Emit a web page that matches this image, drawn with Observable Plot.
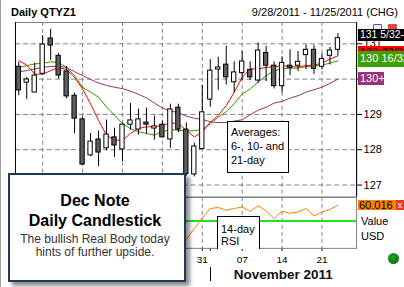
<!DOCTYPE html>
<html><head><meta charset="utf-8">
<script src="https://cdn.jsdelivr.net/npm/d3@7"></script>
<script src="https://cdn.jsdelivr.net/npm/@observablehq/plot@0.6"></script>
<style>
body{margin:0;background:#fff;}
#wrap{position:relative;width:404px;height:287px;overflow:hidden;font-family:"Liberation Sans",Arial,sans-serif;background:#fff;box-sizing:border-box;border-left:1px solid #a0a0a0;}
#wrap svg{position:absolute;left:0;overflow:visible;}
</style></head><body><div id="wrap"></div>
<script>
// ---- data ----
const dates = ["9/28","9/29","9/30","10/3","10/4","10/5","10/6","10/7","10/10","10/11","10/12","10/13","10/14","10/17","10/18","10/19","10/20","10/21","10/24","10/25","10/26","10/27","10/28","10/31","11/1","11/2","11/3","11/4","11/7","11/8","11/9","11/10","11/11","11/14","11/15","11/16","11/17","11/18","11/21","11/22","11/23"];
const opens  = [130.35,129.90,129.62,130.15,131.15,130.66,130.22,129.53,128.86,127.84,128.29,128.04,128.35,128.01,128.71,128.57,128.77,128.60,128.71,128.29,129.19,128.57,127.30,128.02,129.42,130.27,130.41,129.91,130.17,130.26,129.96,130.74,130.38,129.80,130.38,130.38,130.68,130.83,130.35,130.66,130.83];
const highs  = [130.47,130.05,130.45,131.23,131.41,130.73,130.36,129.61,128.93,128.46,128.53,128.84,128.61,128.74,129.31,129.15,129.18,128.95,128.81,129.29,129.29,128.76,128.19,129.82,130.55,130.62,130.93,130.49,130.78,130.49,131.02,130.93,130.49,130.63,130.83,130.78,130.96,130.95,130.71,130.90,131.29];
const lows   = [129.53,129.42,129.62,130.12,130.53,130.00,129.44,128.45,127.55,127.80,127.52,127.97,127.78,127.66,128.55,128.41,128.44,128.27,128.35,128.04,128.48,127.25,127.23,128.02,129.20,129.68,129.83,129.61,129.96,129.96,129.88,129.93,129.72,129.61,130.10,130.21,130.27,130.13,130.26,130.40,130.66];
const closes = [129.68,129.99,130.10,130.98,130.95,130.10,129.51,128.88,127.58,128.23,127.92,128.43,128.12,128.71,128.83,128.86,128.71,128.66,128.35,129.14,128.57,127.31,128.09,129.06,130.24,130.33,130.05,130.19,130.50,130.05,130.81,130.38,129.80,130.46,130.32,130.49,130.83,130.29,130.57,130.81,131.16];
const ma6  = [130.52,130.40,130.14,130.14,130.24,130.33,130.27,130.05,129.72,129.30,128.83,128.41,128.27,128.27,128.46,128.60,128.65,128.65,128.69,128.76,128.74,128.55,128.36,128.50,128.78,128.97,129.25,129.63,130.05,130.29,130.29,130.33,130.35,130.38,130.35,130.35,130.38,130.40,130.45,130.57,130.66];
const ma10 = [130.33,130.38,130.43,130.45,130.49,130.47,130.33,130.10,129.77,129.63,129.49,129.21,128.98,128.74,128.60,128.51,128.46,128.41,128.51,128.57,128.55,128.53,128.54,128.57,128.73,128.92,129.08,129.30,129.58,129.72,129.91,130.10,130.24,130.29,130.31,130.31,130.35,130.38,130.40,130.45,130.52];
const ma21 = [130.21,130.24,130.29,130.33,130.36,130.36,130.33,130.21,130.10,129.99,129.89,129.82,129.77,129.73,129.66,129.57,129.47,129.32,129.18,129.10,129.05,128.95,128.89,128.86,128.79,128.77,128.77,128.81,128.85,128.99,129.12,129.20,129.32,129.37,129.46,129.53,129.63,129.70,129.77,129.88,130.00];
const rsiFirst = 21;
const rsi14 = [38.3,45.2,51.9,57.9,58.5,56.8,57.9,58.9,56.1,59.6,56.5,51.5,56.2,54.9,55.7,57.9,53.2,55.7,57.3,60.0];
const rsiMid = 50;
const yTicks = [127,128,129,130,131];
const gridIdx = [3,8,13,18,23,28,33,38];
const xTickIdx = [23,28,33,38];
const xTickLabels = ["31","07","14","21"];
const monthStartIdx = 24;
const monthLabel = "November 2011";
const tagLabels = ["130 22/32","130 16/32","131 5/32-","130+"];
const tagValues = [130.6875,130.5,131.15625,130.015625];
const rsiTagLabel = "60.016";
const rsiTagValue = 60.016;

// ---- styles ----
const FONT = '"Liberation Sans", Arial, sans-serif';
const tagStyle = [
  {bg:"#ff0000", fg:"#000", dy:-8.4, h:12, w:46, fs:11},
  {bg:"#40a000", fg:"#fff", dy:-9.8, h:15.7, w:46, fs:11},
  {bg:"#000000", fg:"#fff", dy:-8.6, h:11.7, w:46, fs:10.4},
  {bg:"#993377", fg:"#fff", dy:-6.6, h:13, w:24, fs:11}
];

const wrap = document.getElementById("wrap");
const candles = dates.map((d,i)=>({i, date:d, open:opens[i], high:highs[i], low:lows[i], close:closes[i]}));
const toPts = arr => arr.map((v,i)=>({i, v}));
const rsiPts = rsi14.map((v,k)=>({i:k+rsiFirst, v}));
const xDomain = [-0.41, 42.34];

const main = Plot.plot({
  width: 404, height: 198,
  marginLeft: 14, marginRight: 48, marginTop: 22, marginBottom: 1,
  style: {fontFamily: FONT, fontSize: "11px", color: "black", background: "transparent", overflow: "visible"},
  x: {domain: xDomain, axis: null},
  y: {domain: [126.661, 131.605], axis: "right", ticks: yTicks, tickSize: 5, tickPadding: 2, tickFormat: d => String(d), label: null},
  marks: [
    Plot.ruleY(yTicks, {stroke: "#808080", strokeDasharray: "5,3"}),
    Plot.ruleX(gridIdx, {stroke: "#808080", strokeDasharray: "4,3"}),
    Plot.frame({stroke: "#808080"}),
    Plot.ruleX(xDomain, {stroke: "black"}),
    Plot.line(toPts(ma21), {x: "i", y: "v", stroke: "#993366", strokeWidth: 1}),
    Plot.line(toPts(ma10), {x: "i", y: "v", stroke: "#339900", strokeWidth: 1}),
    Plot.line(toPts(ma6), {x: "i", y: "v", stroke: "#ff0000", strokeWidth: 1}),
    Plot.ruleX(candles, {x: "i", y1: "low", y2: "high", stroke: "black"}),
    Plot.rect(candles, {x1: d => d.i - 0.27, x2: d => d.i + 0.27, y1: "open", y2: "close",
      fill: d => d.close >= d.open ? "white" : "#5f5f5f", stroke: "black"})
  ]
});
main.style.top = "0px";
wrap.appendChild(main);

const rsiPlot = Plot.plot({
  width: 404, height: 70,
  marginLeft: 14, marginRight: 48, marginTop: 0, marginBottom: 19,
  style: {fontFamily: FONT, fontSize: "10px", color: "black", background: "transparent", overflow: "visible"},
  x: {domain: xDomain, ticks: [...xTickIdx, monthStartIdx].sort((a,b)=>a-b), tickSize: 3, tickPadding: 5,
      tickFormat: d => { const k = xTickIdx.indexOf(d); return k >= 0 ? xTickLabels[k] : ""; }, label: null},
  y: {domain: [32.6, 64.9], axis: null},
  marks: [
    Plot.ruleX(gridIdx, {stroke: "#808080", strokeDasharray: "4,3"}),
    Plot.ruleY([rsiMid], {stroke: "#22e022", strokeWidth: 2}),
    Plot.line(rsiPts, {x: "i", y: "v", stroke: "#ff8000", strokeWidth: 1}),
    Plot.frame({stroke: "#808080"})
  ]
});
rsiPlot.style.top = "197px";
wrap.appendChild(rsiPlot);

const ys = main.scale("y"), xs = main.scale("x"), rys = rsiPlot.scale("y");

function el(css, html) {
  const d = document.createElement("div");
  d.style.cssText = "position:absolute;" + css;
  if (html != null) d.innerHTML = html;
  wrap.appendChild(d);
  return d;
}
function txt(s, x, base, size, extra="") {
  return el(`left:${x}px;top:${base - 0.8465*size}px;font-size:${size}px;line-height:${size}px;white-space:nowrap;${extra}`, s);
}

// window icons (top right)
el("left:372px;top:24px;width:7px;height:7px;border:1px solid #2a5cc8;background:#eef3ff;border-radius:1px;");
el("left:387px;top:24px;width:9px;height:9px;background:#e04848;border-radius:1px;");

// price tags
tagLabels.forEach((lab, k) => {
  const s = tagStyle[k];
  const y = ys.apply(tagValues[k]);
  el(`left:357px;top:${y + s.dy}px;width:${s.w}px;height:${s.h}px;background:${s.bg};color:${s.fg};font-size:${s.fs}px;line-height:${s.h}px;padding-left:2px;white-space:nowrap;overflow:hidden;`, lab);
});

// RSI tag
{
  const y = 197 + rys.apply(rsiTagValue);
  el(`left:357px;top:${y - 5.2}px;width:37px;height:10.5px;background:#ff8000;color:#000;font-size:11px;line-height:10.5px;padding-left:1px;white-space:nowrap;`, rsiTagLabel);
  el(`left:395px;top:${y - 5.2}px;width:8px;height:10px;background:#e04020;color:#fff;font-size:9px;line-height:10px;text-align:center;`, "x");
}
txt("Value", 360, 225, 11);
txt("USD", 360, 240.5, 11);
// green status dot
el("left:386.5px;top:253px;width:11px;height:11px;border-radius:50%;background:radial-gradient(circle at 40% 35%,#22a022,#006a00);");

// month label and separator
el(`left:${xs.apply(monthStartIdx)}px;top:267px;width:1px;height:14px;background:#000;`);
el(`left:${xs.apply(33) + 1}px;top:${279 - 0.8465*13.5}px;transform:translateX(-50%);font-size:13.5px;line-height:13.5px;font-weight:bold;white-space:nowrap;color:#111;`, monthLabel);

// title
txt("Daily QTYZ1", 10, 16, 11, "font-weight:bold;");
el(`right:6px;top:${16 - 0.8465*11}px;font-size:11px;line-height:11px;white-space:nowrap;`, "9/28/2011 - 11/25/2011 (CHG)");

// Averages box
el("left:226px;top:121px;width:62px;height:52px;box-sizing:border-box;border:1px solid #000;background:#fff;");
txt("Averages:", 230, 136.7, 11);
txt("6-, 10- and", 230, 150.5, 11);
txt("21-day", 230, 164.3, 11);
// RSI box
el("left:216px;top:216px;width:43px;height:33px;box-sizing:border-box;border:1px solid #000;border-bottom:none;background:#fff;");
txt("14-day", 220, 233.3, 11);
txt("RSI", 220, 245.3, 11);

// Dec Note box
el("left:7px;top:173px;width:178px;height:109px;box-sizing:border-box;border:2px solid #1d3a5c;background:#fff;box-shadow:4px 4px 4px rgba(0,0,0,0.45);");
function ctext(s, cx, base, size, extra="") {
  return el(`left:${cx}px;top:${base - 0.8465*size}px;transform:translateX(-50%);font-size:${size}px;line-height:${size}px;white-space:nowrap;${extra}`, s);
}
ctext("Dec Note", 94, 207, 16, "font-weight:bold;color:#000;");
ctext("Daily Candlestick", 94, 226.7, 16, "font-weight:bold;color:#000;");
ctext("The bullish Real Body today", 94, 242.7, 12, "color:#333;");
ctext("hints of further upside.", 94, 256, 12, "color:#333;");
</script></body></html>
